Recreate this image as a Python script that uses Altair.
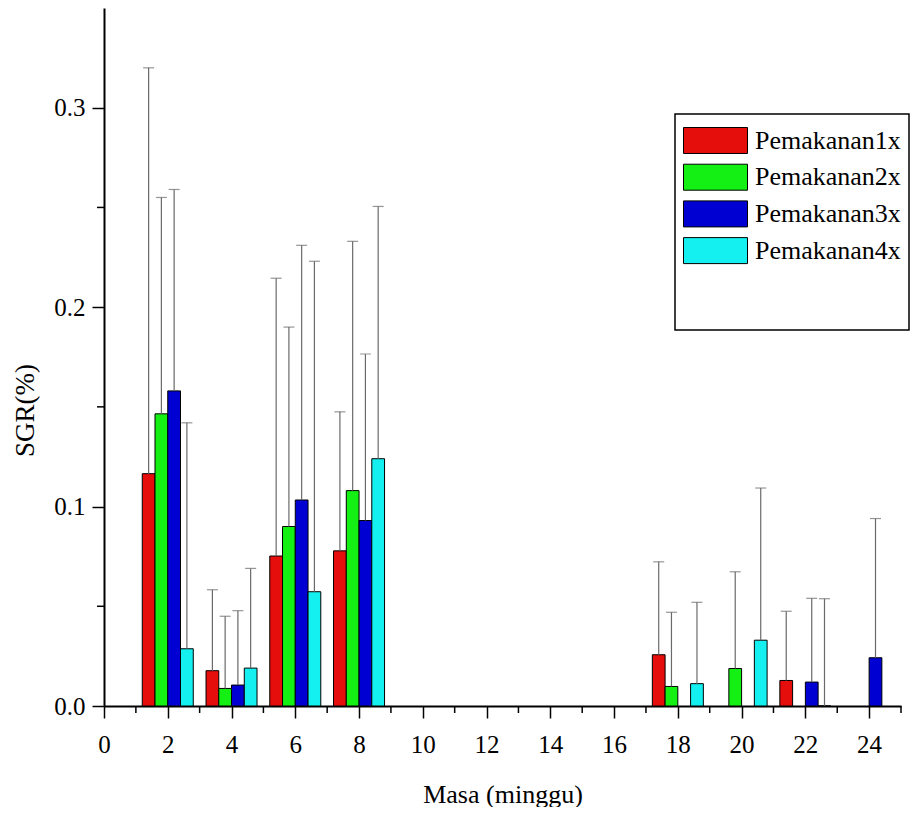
import altair as alt
import pandas as pd

# ---- data ----
weeks = [2, 4, 6, 8, 18, 20, 22, 24]
series = ["Pemakanan1x", "Pemakanan2x", "Pemakanan3x", "Pemakanan4x"]
colors = ["#E60D0D", "#14F014", "#0000D2", "#14F0F0"]

sgr_1x = [0.1165, 0.0177, 0.0752, 0.0778, 0.0257, None, 0.0128, None]
sgr_2x = [0.1465, 0.0088, 0.0900, 0.1080, 0.0098, 0.0188, None, None]
sgr_3x = [0.1580, 0.0105, 0.1033, 0.0930, None, None, 0.0120, 0.0242]
sgr_4x = [0.0287, 0.0190, 0.0573, 0.1240, 0.0112, 0.0330, 0.0, None]

upper_1x = [0.320, 0.0583, 0.2145, 0.1475, 0.0723, None, 0.0475, None]
upper_2x = [0.255, 0.0450, 0.1900, 0.2330, 0.0470, 0.0673, None, None]
upper_3x = [0.259, 0.0478, 0.2310, 0.1765, None, None, 0.0540, 0.0940]
upper_4x = [0.142, 0.0690, 0.2230, 0.2505, 0.0520, 0.1093, 0.0538, None]

x_major = [0, 2, 4, 6, 8, 10, 12, 14, 16, 18, 20, 22, 24]
x_minor = [1, 3, 5, 7, 9, 11, 13, 15, 17, 19, 21, 23, 25]
y_major = [0.0, 0.1, 0.2, 0.3]
y_minor = [0.05, 0.15, 0.25]

rows = []
for i, (name, vals, ups) in enumerate(
    zip(series, [sgr_1x, sgr_2x, sgr_3x, sgr_4x], [upper_1x, upper_2x, upper_3x, upper_4x])
):
    for w, v, u in zip(weeks, vals, ups):
        if v is None:
            continue
        rows.append({"week": w, "series": name, "idx": i, "value": v, "upper": u})
df = pd.DataFrame(rows)

FONT = "Liberation Serif"
W, H = 797, 698

base = alt.Chart(df).transform_calculate(
    x0="datum.week - 0.8 + 0.4 * datum.idx",
    x1="datum.week - 0.4 + 0.4 * datum.idx",
    xc="datum.week - 0.6 + 0.4 * datum.idx",
)

xscale = alt.Scale(domain=[0, 25], nice=False, zero=False)
yscale = alt.Scale(domain=[0, 0.35], nice=False)

x_axis = alt.Axis(
    values=x_major,
    format="d",
    tickSize=12,
    title="Masa (minggu)",
    titleFontSize=26,
    labelFontSize=25,
    labelPadding=14,
    titleY=96,
    titleBaseline="alphabetic",
    grid=False,
    labelFlush=False,
    labelOverlap=False,
)

y_axis = alt.Axis(
    values=y_major,
    format=".1f",
    tickSize=12,
    title="SGR(%)",
    titleFontSize=27,
    labelFontSize=25,
    labelPadding=7,
    titleX=-79,
    titleY=402,
    titleAngle=-90,
    titleAlign="center",
    titleBaseline="middle",
    grid=False,
    labelFlush=False,
    labelOverlap=False,
)

legend = alt.Legend(
    title=" ",
    titleOrient="bottom",
    titleFontSize=30,
    titlePadding=26,
    orient="none",
    legendX=571,
    legendY=106,
    labelFont=FONT,
    labelFontSize=26,
    labelColor="black",
    labelOffset=35,
    symbolType="M-1,-0.722H2.556V0.722H-1Z",
    symbolSize=1296,
    symbolStrokeColor="black",
    symbolStrokeWidth=1,
    symbolOffset=0,
    rowPadding=2.7,
    padding=8,
    fillColor="white",
    strokeColor="black",
)

bars = base.mark_rect(stroke="black", strokeWidth=1).encode(
    x=alt.X("x0:Q", scale=xscale, axis=x_axis),
    x2="x1:Q",
    y=alt.Y("value:Q", scale=yscale, axis=y_axis),
    y2=alt.datum(0),
    color=alt.Color("series:N", scale=alt.Scale(domain=series, range=colors), legend=legend),
)

err_lines = base.mark_rule(color="#6A6A6A", strokeWidth=1.2).encode(
    x=alt.X("xc:Q", scale=xscale, axis=x_axis),
    y=alt.Y("value:Q", scale=yscale, axis=y_axis),
    y2="upper:Q",
)

err_caps = base.mark_tick(orient="horizontal", size=11, thickness=1.2, color="#6A6A6A").encode(
    x=alt.X("xc:Q", scale=xscale, axis=x_axis),
    y=alt.Y("upper:Q", scale=yscale, axis=y_axis),
)

# minor ticks drawn through the same scales
x_minor_ticks = alt.Chart(pd.DataFrame({"v": x_minor})).mark_rule(
    color="black", strokeWidth=1.5
).encode(
    x=alt.X("v:Q", scale=xscale, axis=x_axis),
    y=alt.value(H),
    y2=alt.value(H + 7),
)

y_minor_ticks = alt.Chart(pd.DataFrame({"v": y_minor})).mark_rule(
    color="black", strokeWidth=1.5
).encode(
    y=alt.Y("v:Q", scale=yscale, axis=y_axis),
    x=alt.value(0),
    x2=alt.value(-7),
)

chart = (
    alt.layer(bars, err_lines, err_caps, x_minor_ticks, y_minor_ticks)
    .properties(width=W, height=H, padding={"left": 3, "top": 0, "right": 0, "bottom": 0})
    .configure_view(strokeWidth=0)
    .configure_axis(
        labelFont=FONT,
        titleFont=FONT,
        titleFontWeight="normal",
        labelColor="black",
        titleColor="black",
        domainColor="black",
        domainWidth=2,
        tickColor="black",
        tickWidth=1.5,
    )
    .configure_legend(strokeWidth=1.5)
)

chart.save("out.html", embed_options={"renderer": "svg", "actions": False})
